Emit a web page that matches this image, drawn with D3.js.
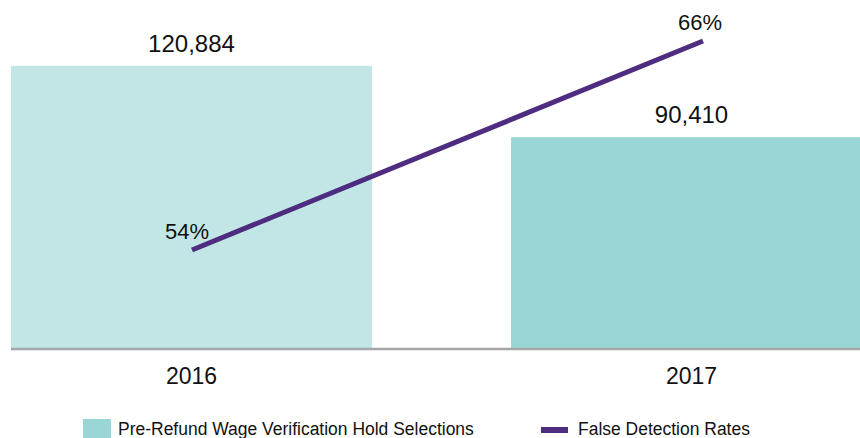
<!DOCTYPE html>
<html lang="en">
<head>
    <meta charset="UTF-8">
    <title>Wage verification holds</title>
    <script src="https://d3js.org/d3.v7.min.js"></script>
    <style>
        body { margin: 0; background: #fff; }
        svg { display: block; }
    </style>
</head>
<body>
    <svg></svg>

    <script>
        const width = 860, height = 438;

        // data
        const years = ["2016", "2017"];
        const holdSelections = [120884, 90410];
        const falseDetection = [54, 66];
        const barColors = ["#c2e6e6", "#99d6d5"];

        const legendLabels = ["Pre-Refund Wage Verification Hold Selections", "False Detection Rates"];

        const baseline = 349;

        const x_scale = d3.scaleBand().domain(years).range([11, 872]).paddingInner(0.278);
        const y_scale = d3.scaleLinear().domain([0, 140000]).range([baseline, 21]);
        const x_line = d3.scalePoint().domain(years).range([192, 703]);
        const y_pct = d3.scaleLinear().domain([54, 66]).range([250, 41]);

        const svg = d3.select("svg")
            .attr("width", width)
            .attr("height", height)

        const bars = years.map((y, i) => ({ year: y, value: holdSelections[i], color: barColors[i] }));
        const pts = years.map((y, i) => ({ year: y, value: falseDetection[i] }));

        svg.selectAll("rect.bar")
            .data(bars)
            .join("rect")
            .attr("class", "bar")
            .attr("fill", d => d.color)
            .attr("x", d => x_scale(d.year))
            .attr("y", d => y_scale(d.value))
            .attr("width", x_scale.bandwidth())
            .attr("height", d => baseline - y_scale(d.value))

        // baseline
        svg.append("line")
            .attr("x1", 11).attr("x2", width)
            .attr("y1", baseline).attr("y2", baseline)
            .attr("stroke", "#a6a6a6")
            .attr("stroke-width", 2.5)

        // bar value labels
        svg.selectAll("text.val")
            .data(bars)
            .join("text")
            .attr("class", "val")
            .attr("x", d => x_scale(d.year) + x_scale.bandwidth() / 2)
            .attr("y", d => y_scale(d.value) - 14)
            .attr("text-anchor", "middle")
            .attr("font-family", "Liberation Sans, Arial, sans-serif")
            .attr("font-size", 24)
            .attr("fill", "#111")
            .text(d => d3.format(",")(d.value))

        // year labels
        svg.selectAll("text.year")
            .data(years)
            .join("text")
            .attr("class", "year")
            .attr("x", d => x_scale(d) + x_scale.bandwidth() / 2)
            .attr("y", 384)
            .attr("text-anchor", "middle")
            .attr("font-family", "Liberation Sans, Arial, sans-serif")
            .attr("font-size", 23)
            .attr("fill", "#111")
            .text(d => d)

        // false detection line
        const line = d3.line().x(d => x_line(d.year)).y(d => y_pct(d.value));
        svg.append("path")
            .datum(pts)
            .attr("fill", "none")
            .attr("stroke", "#4e2c80")
            .attr("stroke-width", 5)
            .attr("d", line)

        svg.selectAll("text.pct")
            .data(pts)
            .join("text")
            .attr("class", "pct")
            .attr("x", (d, i) => x_line(d.year) + (i === 0 ? -5 : -3))
            .attr("y", d => y_pct(d.value) - 11)
            .attr("text-anchor", "middle")
            .attr("font-family", "Liberation Sans, Arial, sans-serif")
            .attr("font-size", 22)
            .attr("fill", "#111")
            .text(d => d.value + "%")

        // legend (condensed look via horizontal squeeze)
        const legend = svg.append("g").attr("font-family", "Liberation Sans, Arial, sans-serif")
            .attr("font-size", 19).attr("fill", "#111");

        legend.append("rect")
            .attr("x", 83).attr("y", 419).attr("width", 28).attr("height", 20)
            .attr("fill", barColors[1])
        legend.append("text")
            .attr("transform", "translate(118,435) scale(0.92,1)")
            .text(legendLabels[0])

        legend.append("line")
            .attr("x1", 541).attr("x2", 568).attr("y1", 430).attr("y2", 430)
            .attr("stroke", "#4e2c80").attr("stroke-width", 6)
        legend.append("text")
            .attr("transform", "translate(578,435) scale(0.92,1)")
            .text(legendLabels[1])
    </script>
</body>
</html>
